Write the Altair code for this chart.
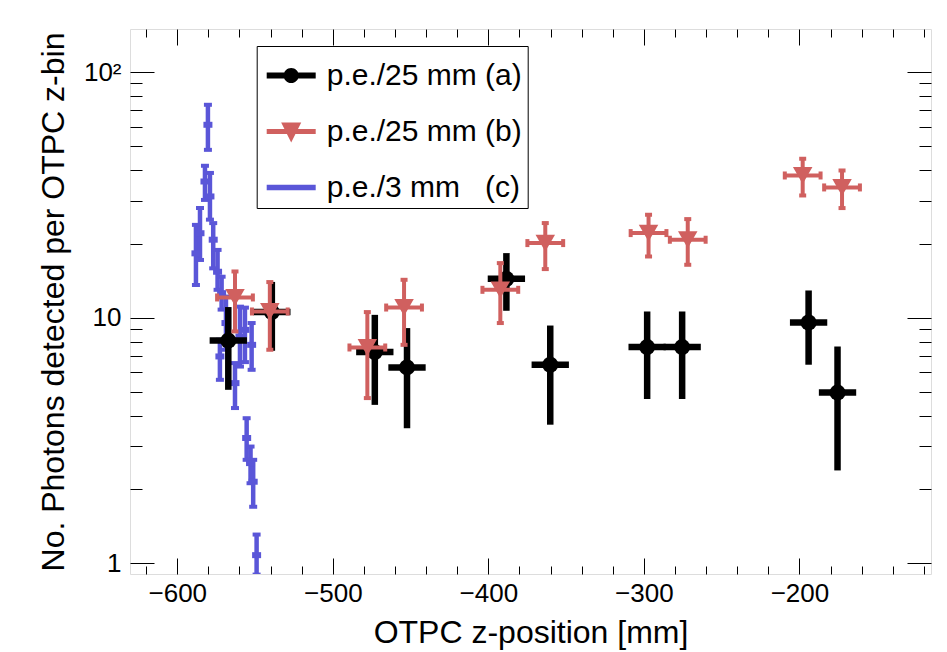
import altair as alt
import pandas as pd

# ---------------- data ----------------
# series (a): p.e./25 mm
a_x = [-567.2, -539.2, -473.0, -452.3, -388.4, -360.2, -297.9, -275.4, -194.1, -175.5]
a_y = [8.08, 10.55, 7.25, 6.28, 14.41, 6.44, 7.60, 7.60, 9.57, 4.96]
a_ylo = [5.09, 7.34, 4.42, 3.55, 10.68, 3.67, 4.67, 4.67, 6.44, 2.39]
a_yhi = [11.06, 14.0, 10.28, 9.08, 18.34, 9.30, 10.61, 10.61, 12.92, 7.64]
a_xerr = [12, 12, 12, 12, 12, 12, 12, 12, 12, 12]

# series (b): p.e./25 mm
b_x = [-562.9, -540.5, -477.8, -454.2, -392.3, -363.4, -297.0, -271.8, -197.9, -172.6]
b_y = [12.10, 10.61, 7.57, 11.01, 13.0, 20.15, 22.13, 20.79, 37.98, 33.95]
b_ylo = [8.80, 7.41, 4.71, 7.76, 9.52, 15.79, 17.77, 16.44, 31.49, 27.98]
b_yhi = [15.44, 13.98, 10.55, 14.28, 16.70, 24.31, 26.28, 25.23, 44.43, 39.8]
b_xerr = [11.5, 11.5, 11.5, 11.5, 11.5, 11.5, 11.5, 11.5, 11.5, 11.5]

# series (c): p.e./3 mm
c_x = [-588.0, -585.4, -582.2, -580.3, -579.0, -576.9, -574.1, -572.6, -571.5,
       -568.7, -562.9, -559.7, -556.5, -555.4, -552.9, -552.2, -551.2, -549.0]
c_y = [18.3, 22.1, 35.9, 61.1, 31.2, 20.8, 15.4, 6.96, 12.6,
       9.52, 5.42, 8.39, 8.93, 3.24, 2.56, 7.76, 2.15, 1.08]
c_ylo = [13.6, 17.2, 30.2, 48.3, 25.1, 15.9, 13.0, 5.59, 10.8,
         7.41, 4.29, 6.33, 6.6, 2.64, 2.12, 6.14, 1.70, 0.90]
c_yhi = [23.9, 28.0, 41.6, 73.7, 38.9, 24.3, 18.9, 8.14, 14.7,
         12.2, 6.54, 11.1, 11.0, 3.90, 2.99, 9.52, 2.64, 1.31]

legend_labels = ["p.e./25 mm (a)", "p.e./25 mm (b)", "p.e./3 mm\u00a0\u00a0\u00a0(c)"]

x_ticks = [-620, -600, -580, -560, -540, -520, -500, -480, -460, -440, -420, -400,
           -380, -360, -340, -320, -300, -280, -260, -240, -220, -200, -180, -160, -140, -120]
y_ticks = [1, 2, 3, 4, 5, 6, 7, 8, 9, 10, 20, 30, 40, 50, 60, 70, 80, 90, 100]

# ---------------- tables ----------------
df_a = pd.DataFrame({"x": a_x, "y": a_y, "ylo": a_ylo, "yhi": a_yhi})
df_a["xlo"] = df_a["x"] - pd.Series(a_xerr)
df_a["xhi"] = df_a["x"] + pd.Series(a_xerr)
df_b = pd.DataFrame({"x": b_x, "y": b_y, "ylo": b_ylo, "yhi": b_yhi})
df_b["xlo"] = df_b["x"] - pd.Series(b_xerr)
df_b["xhi"] = df_b["x"] + pd.Series(b_xerr)
df_c = pd.DataFrame({"x": c_x, "y": c_y, "ylo": c_ylo, "yhi": c_yhi})
df_leg = pd.DataFrame({"series": legend_labels})

BLACK = "#000000"
RED = "#d0605f"
BLUE = "#5a56d8"
FONT = "Liberation Sans"

xs = alt.Scale(domain=[-630.4, -115.4], nice=False, zero=False)
ys = alt.Scale(type="log", domain=[0.905, 150], nice=False)

MAJ_X = "(datum.value % 100 == 0)"
MAJ_Y = "(datum.value == 1 || datum.value == 10 || datum.value == 100)"

ax_bottom = alt.Axis(orient="bottom", values=x_ticks, grid=False, domain=False,
                     labelExpr=f"{MAJ_X} ? datum.label : ''",
                     tickSize={"expr": f"{MAJ_X} ? -16 : -8"},
                     tickColor="black", tickWidth=1,
                     labelPadding=22, labelFontSize=26, labelFont=FONT, labelColor="black",
                     labelOverlap=False, labelFlush=False,
                     title="OTPC z-position [mm]", titleFont=FONT, titleFontSize=32,
                     titleFontWeight="normal", titleColor="black", titlePadding=3)
ax_left = alt.Axis(orient="left", values=y_ticks, grid=False, domain=False,
                   labelExpr="datum.value == 100 ? '10\u00b2' : datum.value == 10 ? '10' : datum.value == 1 ? '1' : ''",
                   tickSize={"expr": f"{MAJ_Y} ? -24 : -12"},
                   tickColor="black", tickWidth=1,
                   labelPadding=33, labelFontSize=26, labelFont=FONT, labelColor="black",
                   labelOverlap=False,
                   title="No. Photons detected per OTPC z-bin", titleFont=FONT, titleFontSize=32,
                   titleFontWeight="normal", titleColor="black", titlePadding=13)
ax_top = alt.Axis(orient="top", values=x_ticks, grid=False, domain=False, labels=False,
                  tickSize={"expr": f"{MAJ_X} ? -16 : -8"}, tickColor="black", tickWidth=1,
                  title=None)
ax_right = alt.Axis(orient="right", values=y_ticks, grid=False, domain=False, labels=False,
                    tickSize={"expr": f"{MAJ_Y} ? -24 : -12"}, tickColor="black", tickWidth=1,
                    title=None)


def X(f):
    return alt.X(f"{f}:Q", scale=xs, axis=ax_bottom)


def Y(f):
    return alt.Y(f"{f}:Q", scale=ys, axis=ax_left)


# ---- blue (c) ----
c_base = alt.Chart(df_c)
c_bar = c_base.mark_rule(color=BLUE, strokeWidth=4.5, clip=True).encode(x=X("x"), y=Y("ylo"), y2="yhi")
c_cap_lo = c_base.mark_tick(color=BLUE, orient="horizontal", size=8, thickness=4, opacity=1, clip=True).encode(x=X("x"), y=Y("ylo"))
c_cap_hi = c_base.mark_tick(color=BLUE, orient="horizontal", size=8, thickness=4, opacity=1, clip=True).encode(x=X("x"), y=Y("yhi"))
c_mid = c_base.mark_tick(color=BLUE, orient="horizontal", size=9, thickness=6, opacity=1, clip=True).encode(x=X("x"), y=Y("y"))

# ---- black (a) ----
a_base = alt.Chart(df_a)
a_h = a_base.mark_rule(color=BLACK, strokeWidth=6.5).encode(x=X("xlo"), x2="xhi", y=Y("y"))
a_v = a_base.mark_rule(color=BLACK, strokeWidth=6.5).encode(x=X("x"), y=Y("ylo"), y2="yhi")
a_pt = a_base.mark_circle(color=BLACK, size=256, opacity=1).encode(x=X("x"), y=Y("y"))

# ---- red (b) ----
b_base = alt.Chart(df_b)
b_h = b_base.mark_rule(color=RED, strokeWidth=4).encode(x=X("xlo"), x2="xhi", y=Y("y"))
b_v = b_base.mark_rule(color=RED, strokeWidth=4).encode(x=X("x"), y=Y("ylo"), y2="yhi")
b_cap_l = b_base.mark_tick(color=RED, orient="vertical", size=8, thickness=4, opacity=1).encode(x=X("xlo"), y=Y("y"))
b_cap_r = b_base.mark_tick(color=RED, orient="vertical", size=8, thickness=4, opacity=1).encode(x=X("xhi"), y=Y("y"))
b_cap_lo = b_base.mark_tick(color=RED, orient="horizontal", size=7, thickness=4, opacity=1).encode(x=X("x"), y=Y("ylo"))
b_cap_hi = b_base.mark_tick(color=RED, orient="horizontal", size=7, thickness=4, opacity=1).encode(x=X("x"), y=Y("yhi"))
b_pt = b_base.mark_point(shape="triangle-down", filled=True, color=RED, size=380, opacity=1).encode(x=X("x"), y=Y("y"))

# ---- legend ----
PATH_A = ("M-1,-0.125L1,-0.125L1,0.125L-1,0.125Z "
          "M0.31,0A0.31,0.31,0,1,1,-0.31,0A0.31,0.31,0,1,1,0.31,0Z")
PATH_B = ("M-1,-0.1L1,-0.1L1,0.1L-1,0.1Z "
          "M-0.41,-0.37L0.41,-0.37L0,0.45Z")
PATH_C = "M-1,-0.115L1,-0.115L1,0.115L-1,0.115Z"

leg_cfg = dict(title=None, orient="none", legendX=126.7, legendY=17,
               padding=5, rowPadding=16, symbolOffset=5, labelOffset=11,
               strokeColor="black", fillColor="white", symbolSize=2401,
               symbolStrokeWidth=0, symbolOpacity=1, labelFont=FONT,
               labelFontSize=30, labelColor="black", labelLimit=500)
leg = alt.Chart(df_leg).mark_point(filled=True, opacity=0).encode(
    color=alt.Color("series:N", scale=alt.Scale(domain=legend_labels, range=[BLACK, RED, BLUE]),
                    legend=alt.Legend(**leg_cfg)),
    shape=alt.Shape("series:N", scale=alt.Scale(domain=legend_labels, range=[PATH_A, PATH_B, PATH_C]),
                    legend=alt.Legend(**leg_cfg)),
)

main = alt.layer(c_bar, c_cap_lo, c_cap_hi, c_mid,
                 a_h, a_v, a_pt,
                 b_h, b_v, b_cap_l, b_cap_r, b_cap_lo, b_cap_hi, b_pt,
                 leg)

frame = alt.Chart(df_a).mark_point(opacity=0).encode(
    x=alt.X("x:Q", scale=xs, axis=ax_top),
    y=alt.Y("y:Q", scale=ys, axis=ax_right),
)

chart = alt.layer(main, frame).resolve_axis(x="independent", y="independent").properties(
    width=801, height=545,
    padding={"left": 130, "top": 29, "right": 16, "bottom": 78},
    autosize=alt.AutoSizeParams(type="none"),
).configure_view(stroke="#333333", strokeWidth=1.5).configure(background="white")

chart.save("out.html", embed_options={"renderer": "svg", "actions": False})
